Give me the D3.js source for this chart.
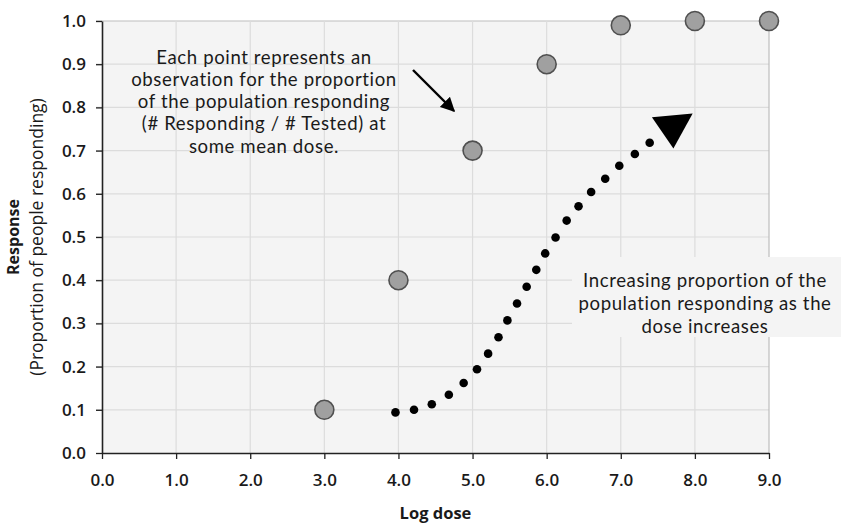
<!DOCTYPE html>
<html>
<head>
<meta charset="utf-8">
<script src="https://cdn.jsdelivr.net/npm/d3@7/dist/d3.min.js"></script>
<style>
  html, body { margin: 0; padding: 0; background: #fff; }
  svg { display: block; }
  text { font-family: "Open Sans", "Noto Sans", sans-serif; fill: #1a1a1a; }
  .note { font-family: Lato, "Open Sans", sans-serif; letter-spacing: 0.6px; }
</style>
</head>
<body>
<svg id="chart" width="841" height="523"></svg>
<script>
// Observed responses (log dose vs proportion responding)
const obsDose = [3, 4, 5, 6, 7, 8, 9];
const obsResponse = [0.10, 0.40, 0.70, 0.90, 0.99, 1.00, 1.00];

// Dotted dose-response curve
const curveDose = [3.96, 4.21, 4.45, 4.68, 4.88, 5.06, 5.21, 5.35, 5.47, 5.60, 5.73, 5.86, 5.98, 6.12, 6.27, 6.43, 6.60, 6.79, 6.98, 7.19, 7.39];
const curveResponse = [0.094, 0.100, 0.113, 0.135, 0.162, 0.194, 0.230, 0.268, 0.307, 0.346, 0.385, 0.424, 0.462, 0.499, 0.538, 0.571, 0.604, 0.635, 0.665, 0.692, 0.718];

// Arrowhead at the end of the curve (tip and two base corners, in data units)
const headDose = [7.97, 7.42, 7.71];
const headResponse = [0.786, 0.777, 0.705];

const xTicks = [0, 1, 2, 3, 4, 5, 6, 7, 8, 9];
const yTicks = [0, 0.1, 0.2, 0.3, 0.4, 0.5, 0.6, 0.7, 0.8, 0.9, 1.0];

const xTitle = "Log dose";
const yTitle1 = "Response";
const yTitle2 = "(Proportion of people responding)";

const note1 = ["Each point represents an", "observation for the proportion", "of the population responding", "(# Responding / # Tested) at", "some mean dose."];
const note2 = ["Increasing proportion of the", "population responding as the", "dose increases"];

const svg = d3.select("#chart");
const x = d3.scaleLinear().domain([0, 9]).range([102, 769]);
const y = d3.scaleLinear().domain([0, 1]).range([453, 21]);

// plot background
svg.append("rect")
  .attr("x", x(0)).attr("y", y(1))
  .attr("width", x(9) - x(0)).attr("height", y(0) - y(1))
  .attr("fill", "#f4f4f4");

// gridlines
svg.append("g").selectAll("line").data(yTicks.slice(1)).join("line")
  .attr("x1", x(0) - 6).attr("x2", x(9))
  .attr("y1", d => y(d)).attr("y2", d => y(d))
  .attr("stroke", d => d === 1 ? "#bdbdbd" : "#dcdcdc").attr("stroke-width", 1.2);
svg.append("g").selectAll("line").data(xTicks.slice(1)).join("line")
  .attr("x1", d => x(d)).attr("x2", d => x(d))
  .attr("y1", y(1)).attr("y2", y(0))
  .attr("stroke", d => d === 9 ? "#bdbdbd" : "#dcdcdc").attr("stroke-width", 1.2);

// note 2 background box
svg.append("rect")
  .attr("x", 572).attr("y", 257).attr("width", 269).attr("height", 80)
  .attr("fill", "#f4f4f4");

// axes
const xAxis = d3.axisBottom(x).tickValues(xTicks).tickFormat(d3.format(".1f")).tickSize(6).tickSizeOuter(0);
const gx = svg.append("g").attr("transform", `translate(0,${y(0)})`).call(xAxis);
gx.select(".domain").attr("stroke", "#222").attr("stroke-width", 1.6);
gx.selectAll(".tick line").attr("stroke", "#222").attr("stroke-width", 1.3);
gx.selectAll(".tick text").attr("font-size", 17).attr("font-weight", 600).attr("y", 33).attr("dy", 0).attr("fill", "#1a1a1a")
  .attr("font-family", '"Open Sans", sans-serif');

const yAxis = d3.axisLeft(y).tickValues(yTicks).tickFormat(d3.format(".1f")).tickSize(6).tickSizeOuter(0);
const gy = svg.append("g").attr("transform", `translate(${x(0)},0)`).call(yAxis);
gy.select(".domain").attr("stroke", "#222").attr("stroke-width", 1.6);
gy.selectAll(".tick line").attr("stroke", "#222").attr("stroke-width", 1.3);
gy.selectAll(".tick text").attr("font-size", 17).attr("font-weight", 600).attr("x", -16).attr("fill", "#1a1a1a")
  .attr("font-family", '"Open Sans", sans-serif');

// axis titles
svg.append("text").attr("x", (x(0) + x(9)) / 2).attr("y", 519)
  .attr("text-anchor", "middle").attr("font-size", 16.5).attr("font-weight", "bold").text(xTitle);
const yt = svg.append("g").attr("transform", `translate(0,${y(0.5)}) rotate(-90)`);
yt.append("text").attr("x", 0).attr("y", 19).attr("text-anchor", "middle")
  .attr("font-size", 16).attr("font-weight", "bold").text(yTitle1);
yt.append("text").attr("x", 0).attr("y", 43).attr("text-anchor", "middle")
  .attr("font-size", 17.5).text(yTitle2);

// dotted curve
svg.append("g").selectAll("circle").data(curveDose).join("circle")
  .attr("cx", d => x(d)).attr("cy", (d, i) => y(curveResponse[i]))
  .attr("r", 4.3).attr("fill", "#000");

// arrowhead
svg.append("polygon")
  .attr("points", headDose.map((d, i) => `${x(d)},${y(headResponse[i])}`).join(" "))
  .attr("fill", "#000");

// observed points
svg.append("g").selectAll("circle").data(obsDose).join("circle")
  .attr("cx", d => x(d)).attr("cy", (d, i) => y(obsResponse[i]))
  .attr("r", 9.5).attr("fill", "#a0a0a0").attr("stroke", "#505050").attr("stroke-width", 1.6);

// note 1
svg.append("g").selectAll("text").data(note1).join("text")
  .attr("class", "note").attr("text-anchor", "middle").attr("font-size", 18.6)
  .attr("x", 264).attr("y", (d, i) => 63.5 + i * 22.3).text(d => d);

// pointer arrow
svg.append("defs").append("marker").attr("id", "ah")
  .attr("viewBox", "0 0 10 10").attr("refX", 9).attr("refY", 5)
  .attr("markerWidth", 6).attr("markerHeight", 6).attr("markerUnits", "strokeWidth")
  .attr("orient", "auto")
  .append("path").attr("d", "M0,0 L10,5 L0,10 Z").attr("fill", "#000");
svg.append("line")
  .attr("x1", 413).attr("y1", 70).attr("x2", 454).attr("y2", 111)
  .attr("stroke", "#000").attr("stroke-width", 2.4).attr("marker-end", "url(#ah)");

// note 2
svg.append("g").selectAll("text").data(note2).join("text")
  .attr("class", "note").attr("text-anchor", "middle").attr("font-size", 18.6)
  .attr("x", 705).attr("y", (d, i) => 287 + i * 23).text(d => d);
</script>
</body>
</html>
